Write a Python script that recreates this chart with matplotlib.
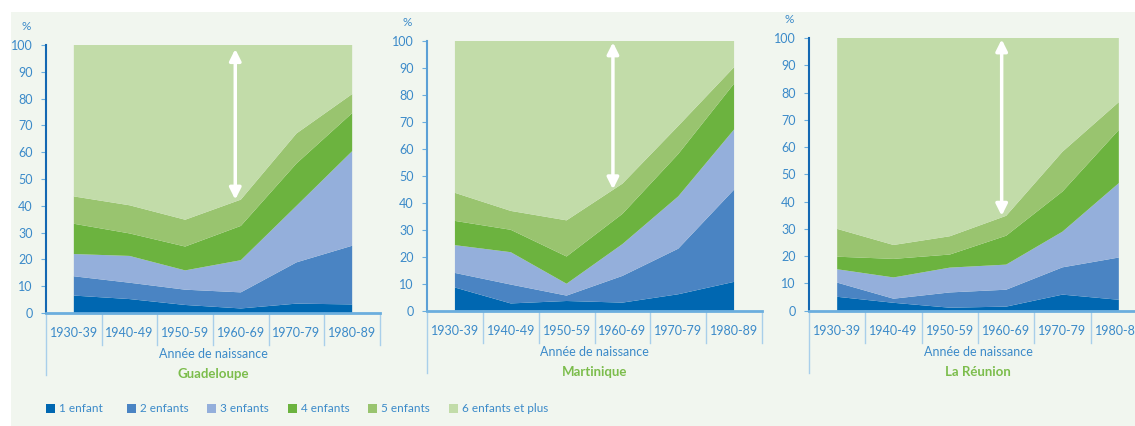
import matplotlib
matplotlib.use("Agg")
import matplotlib.pyplot as plt
from matplotlib.patches import Rectangle

# Data: share of women (%) by number of children, by birth cohort
cohorts = ["1930-39", "1940-49", "1950-59", "1960-69", "1970-79", "1980-89"]
series_labels = ["1 enfant", "2 enfants", "3 enfants", "4 enfants", "5 enfants", "6 enfants et plus"]

guadeloupe_1 = [6.5, 5.2, 3.0, 1.7, 3.5, 3.2]
guadeloupe_2 = [7.2, 6.1, 5.7, 6.0, 15.4, 21.9]
guadeloupe_3 = [8.3, 10.0, 7.2, 12.0, 21.1, 35.3]
guadeloupe_4 = [11.3, 8.4, 8.9, 12.8, 15.8, 14.2]
guadeloupe_5 = [10.2, 10.5, 10.0, 9.8, 11.2, 7.1]
guadeloupe_6 = [56.5, 59.8, 65.2, 57.7, 33.0, 18.3]

martinique_1 = [8.6, 2.7, 3.6, 3.0, 6.1, 10.7]
martinique_2 = [5.4, 7.0, 2.0, 9.9, 16.9, 34.2]
martinique_3 = [10.3, 12.0, 4.4, 11.8, 19.4, 22.3]
martinique_4 = [9.0, 8.3, 10.1, 11.2, 15.7, 17.0]
martinique_5 = [10.4, 7.0, 13.4, 11.2, 10.4, 6.1]
martinique_6 = [56.3, 63.0, 66.5, 52.9, 31.5, 9.7]

reunion_1 = [5.1, 2.9, 1.1, 1.5, 5.9, 4.0]
reunion_2 = [5.2, 1.5, 5.6, 6.2, 10.0, 15.5]
reunion_3 = [4.9, 7.8, 9.1, 9.2, 13.1, 27.3]
reunion_4 = [4.6, 6.8, 4.8, 10.6, 14.7, 19.5]
reunion_5 = [10.2, 5.1, 6.7, 7.3, 14.6, 10.2]
reunion_6 = [70.0, 75.9, 72.7, 65.2, 41.7, 23.5]

regions = ["Guadeloupe", "Martinique", "La Réunion"]
region_series = [
    [guadeloupe_1, guadeloupe_2, guadeloupe_3, guadeloupe_4, guadeloupe_5, guadeloupe_6],
    [martinique_1, martinique_2, martinique_3, martinique_4, martinique_5, martinique_6],
    [reunion_1, reunion_2, reunion_3, reunion_4, reunion_5, reunion_6],
]
# white double arrow: (x position, top value, bottom value)
arrows = [(2.9, 98.5, 42.3), (2.83, 99.5, 45.0), (2.92, 99.5, 34.8)]

colors = ["#0067b1", "#4a84c3", "#94afdb", "#6cb33f", "#99c46f", "#c2dca9"]
bg = "#f1f6ef"
blue_txt = "#3b8ac9"
green_txt = "#7cbd4c"

plt.rcParams["font.family"] = ["Lato", "DejaVu Sans"]

W, H = 1135, 426
fig = plt.figure(figsize=(W / 100, H / 100), dpi=100)
fig.patch.set_facecolor("white")
fig.patches.append(Rectangle((11 / W, 0), 1, (H - 12) / H, transform=fig.transFigure,
                             facecolor=bg, edgecolor="none", zorder=-10))

# axes boxes in pixels: left, right, top, bottom
boxes = [(46, 380, 45, 313), (427, 762, 41, 310.7), (809, 1147, 38, 310.7)]
left_spine_colors = ["#1468b2", "#5ca0d6", "#1468b2"]

for k, (name, series) in enumerate(zip(regions, region_series)):
    x0, x1, yt, yb = boxes[k]
    ax = fig.add_axes([x0 / W, (H - yb) / H, (x1 - x0) / W, (yb - yt) / H])
    ax.set_facecolor("none")
    x = list(range(len(cohorts)))
    ax.stackplot(x, *series, colors=colors, labels=series_labels, linewidth=0)
    ax.set_xlim(-0.5, 5.5)
    ax.set_ylim(0, 100)

    for s in ["top", "right"]:
        ax.spines[s].set_visible(False)
    ax.spines["left"].set_color(left_spine_colors[k])
    ax.spines["left"].set_linewidth(1.5)
    ax.spines["bottom"].set_color("#6baede")
    ax.spines["bottom"].set_linewidth(2)

    ax.set_yticks(range(0, 101, 10))
    ax.tick_params(axis="y", color="#6baede", labelcolor=blue_txt, labelsize=9,
                   length=3.5, width=0.8, pad=6, direction="out")
    ax.set_xticks(x)
    ax.set_xticklabels(cohorts)
    ax.tick_params(axis="x", length=0, pad=10, labelcolor=blue_txt, labelsize=9)

    # category separators below the axis
    trans = ax.get_xaxis_transform()
    for b in range(len(cohorts) + 1):
        low = -0.23 if b == 0 else -0.12
        ax.plot([b - 0.5, b - 0.5], [0, low], transform=trans, color="#a9cfea",
                lw=1, clip_on=False)

    ax.annotate("%", xy=(0, 1), xycoords="axes fraction", xytext=(-14, 13),
                textcoords="offset points", ha="center", va="center",
                color=blue_txt, fontsize=8.5)
    ax.annotate("Année de naissance", xy=(0.5, 0), xycoords="axes fraction",
                xytext=(0, -29.5), textcoords="offset points", ha="center", va="center",
                color=blue_txt, fontsize=9)
    ax.annotate(name, xy=(0.5, 0), xycoords="axes fraction",
                xytext=(0, -44), textcoords="offset points", ha="center", va="center",
                color=green_txt, fontsize=9.5, fontweight="bold")

    xa, top, bot = arrows[k]
    ax.annotate("", xy=(xa, top), xytext=(xa, bot),
                arrowprops=dict(arrowstyle="<|-|>", color="white", lw=2.5,
                                mutation_scale=17, shrinkA=0, shrinkB=0))

# legend row
for i, lab in enumerate(series_labels):
    lx = 46 + i * 80.6
    fig.patches.append(Rectangle((lx / W, (H - 413) / H), 9 / W, 9 / H,
                                 transform=fig.transFigure, facecolor=colors[i],
                                 edgecolor="none"))
    fig.text((lx + 13) / W, (H - 408.5) / H, lab, ha="left", va="center",
             color=blue_txt, fontsize=8.5)

fig.savefig("out.png", dpi=100, facecolor=fig.get_facecolor())
